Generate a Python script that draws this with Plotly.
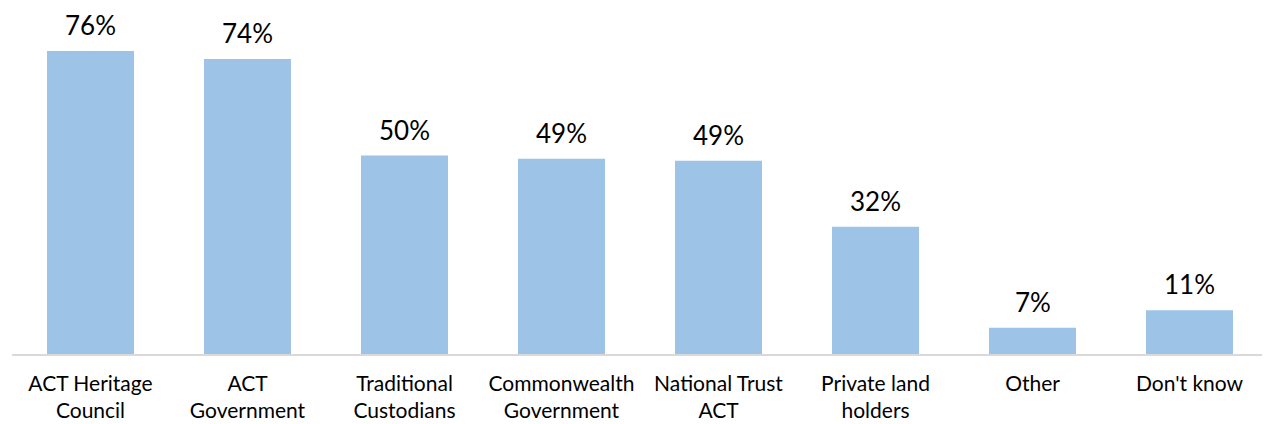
import plotly.graph_objects as go

categories = ["ACT Heritage<br>Council", "ACT<br>Government", "Traditional<br>Custodians",
              "Commonwealth<br>Government", "National Trust<br>ACT", "Private land<br>holders",
              "Other", "Don't know"]
values = [76.2, 74.2, 49.9, 49.1, 48.6, 32.0, 6.6, 11.0]
value_labels = ["76%", "74%", "50%", "49%", "49%", "32%", "7%", "11%"]

BAR_COLOR = "#9DC3E6"
FONT = "Lato"

fig = go.Figure(go.Bar(x=categories, y=values, marker_color=BAR_COLOR,
                       marker_line_width=0, hoverinfo="skip"))

# data labels sit well above the bars, as in the original
for cat, val, lab in zip(categories, values, value_labels):
    fig.add_annotation(x=cat, y=val, text=lab, showarrow=False,
                       yanchor="bottom", yshift=9, borderpad=0,
                       font=dict(family=FONT, size=26, color="#000000"))

# page body adds 8px offset, margins compensate for it
fig.update_layout(
    width=1270, height=424,
    margin=dict(l=4, r=10, t=8, b=78),
    plot_bgcolor="white", paper_bgcolor="white",
    bargap=0.446,
    showlegend=False,
    font=dict(family=FONT, size=21, color="#000000"),
)
fig.update_xaxes(showline=True, linecolor="#D9D9D9", linewidth=1.5,
                 ticks="", showgrid=False, ticklabelstandoff=10,
                 tickfont=dict(family=FONT, size=21, color="#000000"))
fig.update_yaxes(range=[0, 85], visible=False, showgrid=False)

fig.write_html("out.html")
